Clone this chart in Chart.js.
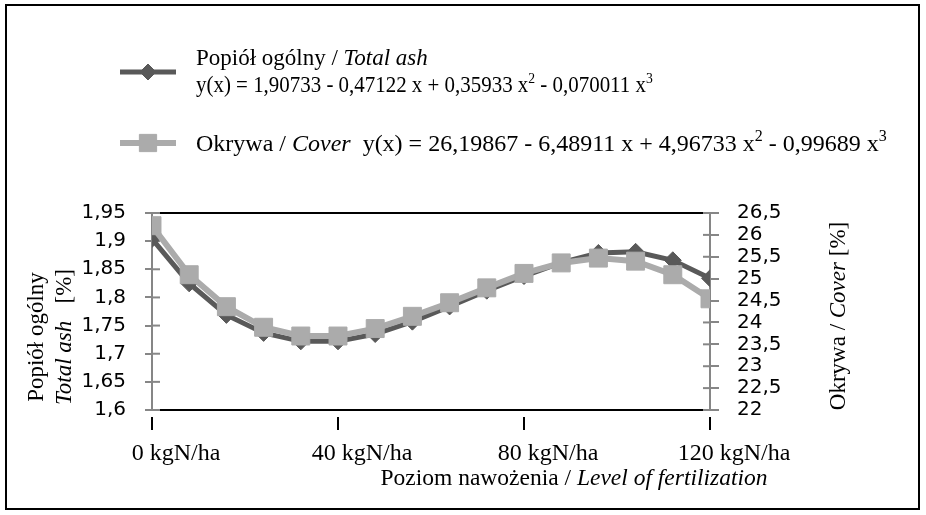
<!DOCTYPE html>
<html lang="pl">
<head>
<meta charset="utf-8">
<script src="https://cdn.jsdelivr.net/npm/chart.js@4.4.1/dist/chart.umd.min.js"></script>
<style>
  html, body { margin: 0; padding: 0; background: #fff; }
  #wrap { width: 926px; height: 515px; position: relative; }
</style>
</head>
<body>
<div id="wrap"><canvas id="ashChart"></canvas></div>
<script>
// poziom nawożenia, kgN/ha
const levels = [0, 8, 16, 24, 32, 40, 48, 56, 64, 72, 80, 88, 96, 104, 112, 120];
// popiół ogólny [%] - lewa oś
const ashValues = [1.904, 1.825, 1.769, 1.737, 1.722, 1.722, 1.735, 1.757, 1.784, 1.812, 1.838, 1.862, 1.879, 1.881, 1.866, 1.834];
// okrywa [%] - prawa oś
const coverValues = [26.21, 25.09, 24.36, 23.89, 23.69, 23.69, 23.86, 24.14, 24.45, 24.79, 25.12, 25.36, 25.47, 25.40, 25.09, 24.54];

const xTicks = [0, 40, 80, 120];
const xTickLabels = ['0 kgN/ha', '40 kgN/ha', '80 kgN/ha', '120 kgN/ha'];
const ashTicks = [1.6, 1.65, 1.7, 1.75, 1.8, 1.85, 1.9, 1.95];
const coverTicks = [22, 22.5, 23, 23.5, 24, 24.5, 25, 25.5, 26, 26.5];

const ashName = [['Popiół ogólny / ', ''], ['Total ash', 'i']];
const ashEquation = [['y(x) = 1,90733 - 0,47122 x + 0,35933 x', ''], ['2', 'sup'], [' - 0,070011 x', ''], ['3', 'sup']];
const coverLegend = [['Okrywa / ', ''], ['Cover', 'i'], ['  y(x) = 26,19867 - 6,48911 x + 4,96733 x', ''], ['2', 'sup'], [' - 0,99689 x', ''], ['3', 'sup']];
const leftTitle1 = [['Popiół ogólny', '']];
const leftTitle2 = [['Total ash', 'i'], ['   [%]', '']];
const rightTitle = [['Okrywa / ', ''], ['Cover', 'i'], [' [%]', '']];
const xTitle = [['Poziom nawożenia / ', ''], ['Level of fertilization', 'i']];

const SERIF = '"Liberation Serif", "Times New Roman", serif';
const TXT = 23;

function fontFor(style, size) {
  if (style === 'i') return 'italic ' + size + 'px ' + SERIF;
  if (style === 'sup') return Math.round(size * 0.66) + 'px ' + SERIF;
  return size + 'px ' + SERIF;
}

function richWidth(ctx, parts, size) {
  let w = 0;
  parts.forEach(([t, s]) => {
    ctx.font = fontFor(s, size);
    w += ctx.measureText(t).width;
  });
  return w;
}

// sx < 1 ścieśnia tekst w poziomie (jak w oryginale)
function drawRich(ctx, parts, x, y, size, sx) {
  ctx.save();
  ctx.translate(x, y);
  ctx.scale(sx || 1, 1);
  ctx.textAlign = 'left';
  ctx.textBaseline = 'alphabetic';
  ctx.fillStyle = '#000';
  let cx = 0;
  parts.forEach(([t, s]) => {
    ctx.font = fontFor(s, size);
    ctx.fillText(t, cx, s === 'sup' ? -size * 0.4 : 0);
    cx += ctx.measureText(t).width;
  });
  ctx.restore();
}

function drawRotated(ctx, parts, x, cy, size) {
  ctx.save();
  ctx.translate(x, cy);
  ctx.rotate(-Math.PI / 2);
  drawRich(ctx, parts, -richWidth(ctx, parts, size) / 2, 0, size);
  ctx.restore();
}

function fmt(v) {
  return parseFloat(Number(v).toFixed(2)).toString().replace('.', ',');
}

function legendSymbol(ctx, ds, y) {
  ctx.save();
  ctx.strokeStyle = ds.borderColor;
  ctx.lineWidth = ds.borderWidth;
  ctx.beginPath();
  ctx.moveTo(120, y);
  ctx.lineTo(176, y);
  ctx.stroke();
  ctx.fillStyle = ds.backgroundColor;
  ctx.lineWidth = 1;
  Chart.helpers.drawPoint(ctx, { pointStyle: ds.pointStyle, rotation: 0, radius: ds.pointRadius - 0.5, borderWidth: 1 }, 148, y);
  ctx.restore();
}

const framePlugin = {
  id: 'frame',
  beforeDatasetsDraw(chart) {
    const ctx = chart.ctx;
    const area = chart.chartArea;
    ctx.save();
    ctx.strokeStyle = '#868686';
    ctx.lineWidth = 2;
    chart.scales.y.ticks.forEach(t => {
      const py = chart.scales.y.getPixelForValue(t.value);
      ctx.beginPath();
      ctx.moveTo(area.left, py);
      ctx.lineTo(area.left + 8, py);
      ctx.stroke();
    });
    chart.scales.y1.ticks.forEach(t => {
      const py = chart.scales.y1.getPixelForValue(t.value);
      ctx.beginPath();
      ctx.moveTo(area.right - 7, py);
      ctx.lineTo(area.right, py);
      ctx.stroke();
    });
    ctx.restore();
  },
  afterDraw(chart) {
    const ctx = chart.ctx;
    const ds = chart.data.datasets;
    ctx.save();

    // legenda
    legendSymbol(ctx, ds[0], 72);
    drawRich(ctx, ashName, 196, 65, TXT);
    drawRich(ctx, ashEquation, 196, 92, TXT, 0.91);
    legendSymbol(ctx, ds[1], 143);
    drawRich(ctx, coverLegend, 196, 151, 24);

    // tytuły osi
    drawRotated(ctx, leftTitle1, 43, 337, TXT);
    drawRotated(ctx, leftTitle2, 71, 337, TXT);
    drawRotated(ctx, rightTitle, 845, 316, TXT);
    drawRich(ctx, xTitle, 574 - richWidth(ctx, xTitle, 23.5) / 2, 485, 23.5);

    // ramka
    ctx.strokeStyle = '#000';
    ctx.lineWidth = 2;
    ctx.strokeRect(6, 5, 913, 504);
    ctx.restore();
  }
};

new Chart(document.getElementById('ashChart'), {
  type: 'line',
  data: {
    datasets: [
      {
        label: 'Popiół ogólny / Total ash',
        data: levels.map((x, i) => ({ x: x, y: ashValues[i] })),
        yAxisID: 'y',
        borderColor: '#595959',
        backgroundColor: '#595959',
        borderWidth: 5,
        pointStyle: 'rectRot',
        pointRadius: 8.5,
        pointBorderWidth: 1,
        order: 2
      },
      {
        label: 'Okrywa / Cover',
        data: levels.map((x, i) => ({ x: x, y: coverValues[i] })),
        yAxisID: 'y1',
        borderColor: '#ababab',
        backgroundColor: '#ababab',
        borderWidth: 6,
        pointStyle: 'rect',
        pointRadius: 12.7,
        pointBorderWidth: 1,
        order: 1
      }
    ]
  },
  options: {
    responsive: true,
    maintainAspectRatio: false,
    animation: false,
    layout: { padding: { top: 213, left: 0, right: 0, bottom: 0 } },
    plugins: {
      legend: { display: false },
      tooltip: { enabled: false }
    },
    scales: {
      x: {
        type: 'linear',
        position: 'bottom',
        min: 0,
        max: 120,
        afterBuildTicks: s => { s.ticks = xTicks.map(v => ({ value: v })); },
        afterFit: s => { s.height = 105; },
        ticks: {
          callback: (v, i) => xTickLabels[i],
          font: { family: SERIF, size: 24 },
          color: '#000',
          padding: 9,
          labelOffset: 24,
          maxRotation: 0,
          autoSkip: false
        },
        grid: {
          drawOnChartArea: false,
          color: '#000',
          lineWidth: 2,
          tickLength: 20,
          tickBorderDash: [0, 6, 13, 60]
        },
        border: { color: '#000', width: 2 }
      },
      xTop: {
        type: 'linear',
        position: 'top',
        min: 0,
        max: 120,
        afterFit: s => { s.height = 0; },
        ticks: { display: false },
        grid: { display: false, drawTicks: false },
        border: { color: '#000', width: 2 }
      },
      y: {
        position: 'left',
        min: 1.6,
        max: 1.95,
        afterBuildTicks: s => { s.ticks = ashTicks.map(v => ({ value: v })); },
        afterFit: s => { s.width = 152; },
        ticks: {
          callback: v => fmt(v),
          font: { family: 'DejaVu Sans', size: 20 },
          color: '#000',
          padding: 19,
          autoSkip: false
        },
        grid: { drawOnChartArea: false, color: '#868686', lineWidth: 2, tickLength: 7 },
        border: { color: '#868686', width: 2 }
      },
      y1: {
        position: 'right',
        min: 22,
        max: 26.5,
        afterBuildTicks: s => { s.ticks = coverTicks.map(v => ({ value: v })); },
        afterFit: s => { s.width = 216; },
        ticks: {
          callback: v => fmt(v),
          font: { family: 'DejaVu Sans', size: 20 },
          color: '#000',
          padding: 18,
          autoSkip: false
        },
        grid: { drawOnChartArea: false, color: '#868686', lineWidth: 2, tickLength: 9 },
        border: { color: '#868686', width: 2 }
      }
    }
  },
  plugins: [framePlugin]
});
</script>
</body>
</html>
